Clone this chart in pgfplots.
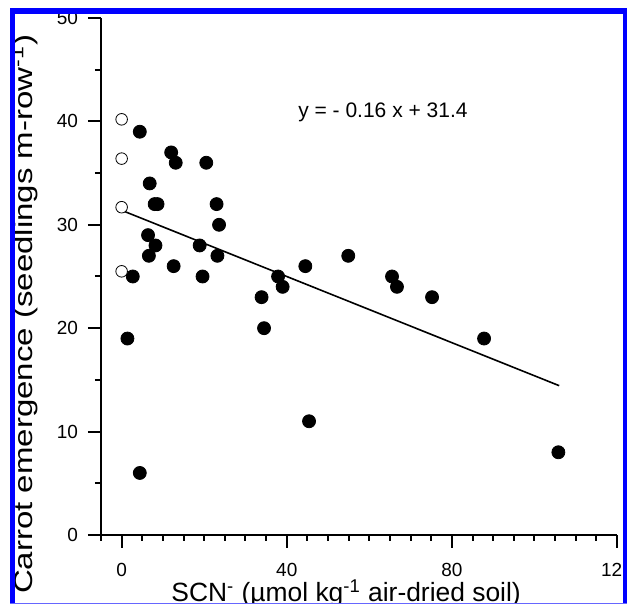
\documentclass[border=0pt]{standalone}
\usepackage{fontspec}
\setmainfont{Liberation Sans}
\usepackage{graphicx}
\usepackage{pgfplots}
\pgfplotsset{compat=1.18}
\definecolor{frameblue}{RGB}{0,0,255}

\begin{document}
\begin{tikzpicture}
\useasboundingbox (0pt,0pt) rectangle (314pt,302pt);
\begin{scope}
\clip (5pt,0.5pt) rectangle (311.5pt,298pt);
\begin{axis}[
  at={(50.5pt,34.5pt)}, anchor=south west,
  scale only axis, width=258pt, height=258.5pt,
  xmin=-5, xmax=120, ymin=0, ymax=50,
  axis x line*=bottom, axis y line*=left,
  axis line style={line width=1pt,-},
  xtick={0,40,80,120}, ytick={0,10,20,30,40,50},
  minor xtick={-5,5,10,15,20,25,30,35,45,50,55,60,65,70,75,85,90,95,100,105,110,115},
  minor ytick={5,15,25,35,45},
  tick align=outside,
  major tick length=6.5pt, minor tick length=3pt,
  tick style={line width=1pt, black},
  clip=false,
  /pgf/number format/assume math mode=true,
  ticklabel style={font=\fontsize{9.5}{11}\selectfont},
  xticklabel style={yshift=-4pt},
  yticklabel style={xshift=-1.5pt},
  xlabel={SCN\textsuperscript{-} (µmol kg\textsuperscript{-1} air-dried soil)},
  ylabel={\scalebox{1.27}[1]{Carrot emergence (seedlings m-row\textsuperscript{-1})}},
  xlabel style={at={(axis description cs:0.475,-0.1277)}, anchor=base, font=\fontsize{13.2}{15}\selectfont},
  ylabel style={at={(axis description cs:-0.1337,0.427)}, anchor=base, font=\fontsize{13}{15}\selectfont},
]
% regression line
\addplot[black, line width=0.8pt] coordinates {(0,31.4) (106,14.44)};
% filled points
\addplot[only marks, mark=*, mark size=3.25pt, mark options={fill=black, draw=black}] coordinates {
(4.4,39) (12.0,37) (13.1,36) (20.5,36) (6.8,34) (8.0,32) (8.7,32) (23.0,32)
(23.6,30) (6.4,29) (8.2,28) (18.9,28) (6.6,27) (23.2,27) (12.6,26) (2.7,25)
(19.6,25) (33.9,23) (39.0,24) (37.9,25) (1.4,19) (4.4,6) (34.5,20) (45.4,11)
(44.5,26) (54.9,27) (65.5,25) (66.7,24) (75.2,23) (87.8,19) (105.8,8)
};
% open points
\addplot[only marks, mark=*, mark size=2.9pt, mark options={fill=white, draw=black, line width=0.4pt}] coordinates {
(0,40.2) (0,36.4) (0,31.7) (0,25.5)
};
\node[font=\fontsize{10.5}{12}\selectfont] at (axis cs:63.3,40.9) {y = - 0.16 x + 31.4};
\end{axis}
\end{scope}
% blue frame
\fill[frameblue] (5pt,0pt) rectangle (7.5pt,298pt);
\fill[frameblue] (5pt,295pt) rectangle (313.5pt,298pt);
\fill[frameblue] (311.5pt,0pt) rectangle (313.5pt,298pt);
\fill[frameblue!60] (5pt,0pt) rectangle (313.5pt,0.5pt);
\end{tikzpicture}
\end{document}
